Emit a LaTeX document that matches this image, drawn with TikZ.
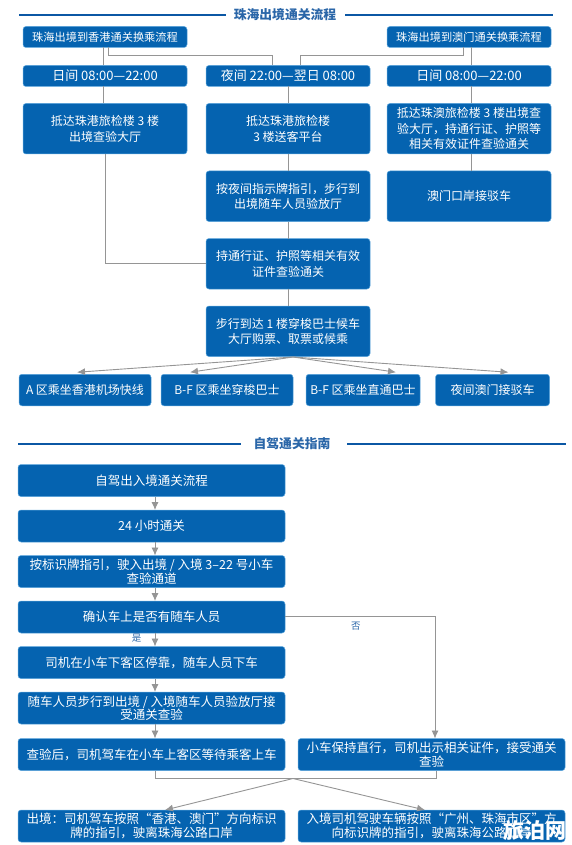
\documentclass[tikz,border=0pt]{standalone}
\usepackage{xcolor}
\usepackage{fontspec}
\setmainfont{Noto Sans CJK SC}
\usepackage{tikz}
\usetikzlibrary{positioning, arrows.meta, calc}
\definecolor{boxblue}{HTML}{0563B0}
\definecolor{boxedge}{HTML}{5AA5DC}
\definecolor{headblue}{HTML}{0B57A4}
\definecolor{titleblue}{HTML}{2A66A8}
\definecolor{linkgray}{HTML}{959595}

\begin{document}
\begin{tikzpicture}[x=1pt, y=-1pt, >={Latex[length=8pt,width=7pt]},
  box/.style={draw=boxedge, line width=0.5pt, rounded corners=3pt, fill=boxblue, text=white, align=center, inner sep=1pt, outer sep=0pt, font=\fontsize{12}{15.5}\selectfont, minimum width=164pt},
  small/.style={box, font=\fontsize{11.2}{14}\selectfont, minimum height=21pt},
  clock/.style={small, font=\fontsize{13}{15}\selectfont},
  tall/.style={box, minimum height=50.5pt},
  wide/.style={box, minimum width=267pt, minimum height=32pt, font=\fontsize{12.5}{13.5}\selectfont},
  leaf/.style={box, minimum height=31.5pt},
  head/.style={font=\bfseries\fontsize{12.8}{15}\selectfont, text=titleblue, inner sep=0pt},
  rule/.style={headblue, line width=2pt},
  link/.style={linkgray, line width=0.9pt},
  flag/.style={font=\fontsize{9.5}{11}\selectfont, text=titleblue, inner sep=0pt}]
  \useasboundingbox (0,0) rectangle (571,845);

  % crossing flow
  \node[head] (headone) at (285,15) {珠海出境通关流程};
  \coordinate (ruleonea) at (19,15);
  \coordinate (ruleoneb) at (226,15);
  \coordinate (ruleonec) at (345,15);
  \coordinate (ruleoned) at (553,15);
  \draw[rule] (ruleonea) -- (ruleoneb);
  \draw[rule] (ruleonec) -- (ruleoned);

  \node[small] (hk) at (105,37) {珠海出境到香港通关换乘流程};
  \node[small] (mo) at (469,37) {珠海出境到澳门通关换乘流程};
  \node[clock, below=18pt of hk] (hkday) {日间 08:00—22:00};
  \node[clock, right=19pt of hkday] (night) {夜间 22:00—翌日 08:00};
  \node[clock, below=18pt of mo] (moday) {日间 08:00—22:00};
  \node[tall, below=17pt of hkday] (hkhall) {抵达珠港旅检楼 3 楼\\出境查验大厅};
  \node[tall, below=17pt of night] (platform) {抵达珠港旅检楼\\3 楼送客平台};
  \node[tall, below=17pt of moday] (mohall) {抵达珠澳旅检楼 3 楼出境查\\验大厅，持通行证、护照等\\相关有效证件查验通关};
  \node[tall, below=17pt of platform] (signs) {按夜间指示牌指引，步行到\\出境随车人员验放厅};
  \node[tall, below=17pt of mohall] (mobus) {澳门口岸接驳车};
  \node[tall, below=17pt of signs] (check) {持通行证、护照等相关有效\\证件查验通关};
  \node[tall, below=17pt of check] (walk) {步行到达 1 楼穿梭巴士候车\\大厅购票、取票或候乘};
  \node[leaf, minimum width=132pt] (airport) at (85,390) {A 区乘坐香港机场快线};
  \node[leaf, minimum width=132pt] (shuttle) at (227,390) {B-F 区乘坐穿梭巴士};
  \node[leaf, minimum width=114pt] (direct) at (363,390) {B-F 区乘坐直通巴士};
  \node[leaf, minimum width=114pt] (macau) at (492.5,390) {夜间澳门接驳车};

  \coordinate (hkturn) at (108.5,55);
  \coordinate (moturn) at (463,55);
  \coordinate (spread) at (293,357);
  \draw[link] ([xshift=-2pt]hk.south) -- ([xshift=-2pt]hkday.north);
  \draw[link] (hkturn |- hk.south) -- (hkturn) -| ([xshift=-16pt]night.north);
  \draw[link] (moturn |- mo.south) -- (moturn) -| ([xshift=12pt]night.north);
  \draw[link] ([xshift=2pt]mo.south) -- ([xshift=2pt]moday.north);
  \draw[link] ([xshift=-2pt]hkday.south) -- ([xshift=-2pt]hkhall.north);
  \draw[link] (night) -- (platform);
  \draw[link] ([xshift=2pt]moday.south) -- ([xshift=2pt]mohall.north);
  \draw[link] (platform) -- (signs);
  \draw[link] ([xshift=2pt]mohall.south) -- ([xshift=2pt]mobus.north);
  \draw[link] (signs) -- (check);
  \draw[link] (check) -- (walk);
  \draw[link] (hkhall.south) |- (check.west);
  \draw[link, ->] (spread) -- ([shift={(-8pt,2pt)}]airport.north);
  \draw[link, ->] (spread) -- ([shift={(-37pt,2pt)}]shuttle.north);
  \draw[link, ->] (spread) -- ([shift={(33pt,2pt)}]direct.north);
  \draw[link, ->] (spread) -- ([shift={(16pt,2pt)}]macau.north);

  % driving flow
  \node[head] (headtwo) at (292,444) {自驾通关指南};
  \coordinate (ruletwoa) at (18,444);
  \coordinate (ruletwob) at (241,444);
  \coordinate (ruletwoc) at (347,444);
  \coordinate (ruletwod) at (566,444);
  \draw[rule] (ruletwoa) -- (ruletwob);
  \draw[rule] (ruletwoc) -- (ruletwod);

  \node[wide] (drive) at (151.5,480.5) {自驾出入境通关流程};
  \node[wide, below=13.5pt of drive] (hours) {24 小时通关};
  \node[wide, below=13.5pt of hours] (lane) {按标识牌指引，驶入出境 / 入境 3–22 号小车\\查验通道};
  \node[wide, below=13.5pt of lane] (confirm) {确认车上是否有随车人员};
  \node[wide, below=13.5pt of confirm] (drop) {司机在小车下客区停靠，随车人员下车};
  \node[wide, below=13.5pt of drop] (inspect) {随车人员步行到出境 / 入境随车人员验放厅接\\受通关查验};
  \node[wide, below=14.5pt of inspect] (wait) {查验后，司机驾车在小车上客区等待乘客上车};
  \node[wide, right=13pt of wait] (straight) {小车保持直行，司机出示相关证件，接受通关\\查验};
  \node[wide, below=39.5pt of wait] (leave) {出境：司机驾车按照“香港、澳门”方向标识\\牌的指引，驶离珠海公路口岸};
  \node[wide, right=13pt of leave] (enter) {入境司机驾驶车辆按照“广州、珠海市区”方\\向标识牌的指引，驶离珠海公路口岸};
  \node[flag, right=66pt of confirm, yshift=-9pt] (noflag) {否};
  \node[flag, below=1pt of confirm, xshift=-15pt] (yesflag) {是};
  \node[font=\bfseries\fontsize{21}{24}\selectfont, text=white, inner sep=0pt] (stamp) at (535,830) {旅泊网};

  \coordinate (noturn) at (435,616);
  \coordinate (join) at (293,778.5);
  \draw[link, ->] ([xshift=3.5pt]drive.south) -- ([xshift=3.5pt]hours.north);
  \draw[link, ->] ([xshift=3.5pt]hours.south) -- ([xshift=3.5pt]lane.north);
  \draw[link, ->] ([xshift=3.5pt]lane.south) -- ([xshift=3.5pt]confirm.north);
  \draw[link, ->] ([xshift=3.5pt]confirm.south) -- ([xshift=3.5pt]drop.north);
  \draw[link, ->] ([xshift=3.5pt]drop.south) -- ([xshift=3.5pt]inspect.north);
  \draw[link, ->] ([xshift=3.5pt]inspect.south) -- ([xshift=3.5pt]wait.north);
  \draw[link, ->] (confirm.east |- noturn) -- (noturn) -- (noturn |- straight.north);
  \draw[link] ([xshift=3.5pt]wait.south) |- (join) -| ([xshift=5pt]straight.south);
  \draw[link, ->] (join) -- ([xshift=13.5pt]leave.north);
  \draw[link, ->] (join) -- ([xshift=-6.5pt]enter.north);
\end{tikzpicture}
\end{document}
